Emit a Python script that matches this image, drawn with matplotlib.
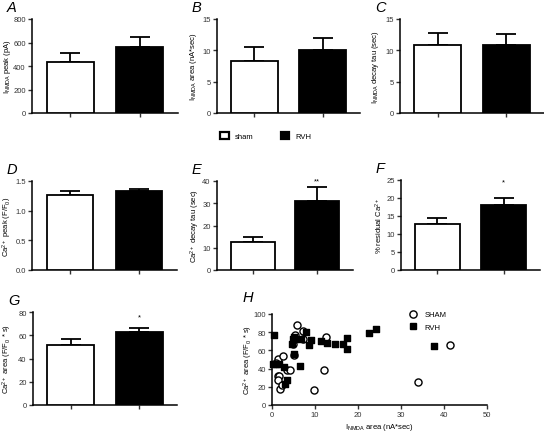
import numpy as np
import matplotlib
matplotlib.use("Agg")
import matplotlib.pyplot as plt
from matplotlib.patches import Patch
from matplotlib.lines import Line2D

plt.rcParams["font.family"] = ["Liberation Sans", "DejaVu Sans"]
plt.rcParams["mathtext.default"] = "regular"

groups = ["sham", "RVH"]

# bar panels: mean and SEM for sham / RVH
nmda_peak = [430, 565]
nmda_peak_err = [80, 85]
nmda_area = [8.3, 10.1]
nmda_area_err = [2.3, 1.9]
nmda_tau = [10.9, 10.9]
nmda_tau_err = [1.8, 1.7]
ca_peak = [1.27, 1.33]
ca_peak_err = [0.06, 0.04]
ca_tau = [12.6, 31.2]
ca_tau_err = [2.2, 6.0]
ca_resid = [12.8, 18.1]
ca_resid_err = [1.7, 2.0]
ca_area = [52, 63]
ca_area_err = [5, 3.5]

# scatter H
sham_x = [5.9, 7.2, 12.5, 5.4, 7.3, 1.4, 2.6, 1.3, 1.6, 1.4, 1.8, 2.3, 3.6, 4.2,
          9.8, 12.0, 33.9, 41.5, 5.0, 4.9, 1.0]
sham_y = [88, 81, 75, 77, 72, 51, 54, 32, 32, 27, 18, 22, 39, 39,
          16, 39, 25, 66, 55, 67, 46]
rvh_x = [0.4, 0.2, 1.0, 1.6, 2.8, 3.1, 3.6, 5.2, 6.6, 5.0, 4.8, 4.7, 5.4, 6.7,
         8.0, 8.6, 9.0, 11.3, 12.8, 14.7, 16.6, 17.5, 17.5, 22.5, 24.1, 37.6]
rvh_y = [77, 45, 45, 45, 42, 23, 28, 56, 43, 75, 72, 67, 72, 72,
         80, 66, 71, 70, 68, 67, 67, 74, 61, 79, 83, 65]

W, H = 544, 435
FS = 5.5


def box(x0, x1, ytop, ybot):
    return [x0 / W, 1 - ybot / H, (x1 - x0) / W, (ybot - ytop) / H]


def style(ax):
    for s in ["top", "right"]:
        ax.spines[s].set_visible(False)
    for s in ["left", "bottom"]:
        ax.spines[s].set_linewidth(1.1)
    ax.tick_params(width=1.0, length=3, pad=1.5, labelsize=FS, colors="#333")


def place_ylabel(ax, rect, px):
    # put the y label centre at a given pixel column
    ax.yaxis.set_label_coords((px / W - rect[0]) / rect[2], 0.5)


def bar_panel(fig, rect, vals, errs, ymax, step, ylabel, letter, label_px,
              star=None, fmt=None):
    ax = fig.add_axes(rect)
    x = np.arange(2)
    ax.bar(x, vals, width=0.68, color=["white", "black"], edgecolor="black",
           linewidth=1.3, zorder=3)
    ax.errorbar(x, vals, yerr=[np.zeros(2), errs], fmt="none", ecolor="black",
                elinewidth=1.3, capsize=7, capthick=1.3, zorder=2)
    ax.set_xlim(-0.55, 1.55)
    ax.set_ylim(0, ymax)
    ticks = np.arange(0, ymax + step / 2, step)
    ax.set_yticks(ticks)
    if fmt:
        ax.set_yticklabels([fmt.format(t) for t in ticks])
    ax.set_xticks(x)
    ax.set_xticklabels([])
    ax.spines["left"].set_bounds(0, ymax)
    style(ax)
    ax.set_ylabel(ylabel, fontsize=FS, va="center")
    place_ylabel(ax, rect, label_px)
    if star:
        ax.text(1, star[1], star[0], ha="center", va="center", fontsize=FS)
    fig.text(rect[0] - 25 / W, rect[1] + rect[3] + 5 / H, letter,
             fontsize=10.5, style="italic", va="bottom", ha="left")
    return ax


fig = plt.figure(figsize=(W / 100, H / 100), dpi=100)

bar_panel(fig, box(32, 178, 20, 114), nmda_peak, nmda_peak_err, 800, 200,
          r"I$_{NMDA}$ peak (pA)", "A", 8)
bar_panel(fig, box(217, 360, 20, 114), nmda_area, nmda_area_err, 15, 5,
          r"I$_{NMDA}$ area (nA*sec)", "B", 194)
bar_panel(fig, box(400, 544, 20, 114), nmda_tau, nmda_tau_err, 15, 5,
          r"I$_{NMDA}$ decay tau (sec)", "C", 376)
bar_panel(fig, box(32, 177, 182, 271), ca_peak, ca_peak_err, 1.5, 0.5,
          r"Ca$^{2+}$ peak (F/F$_0$)", "D", 7)
bar_panel(fig, box(217, 353, 182, 271), ca_tau, ca_tau_err, 40, 10,
          r"Ca$^{2+}$ decay tau (sec)", "E", 195, star=("**", 40))
bar_panel(fig, box(401, 540, 181, 271), ca_resid, ca_resid_err, 25, 5,
          r"% residual Ca$^{2+}$", "F", 379, star=("*", 24.5))
bar_panel(fig, box(33, 177, 313, 406), ca_area, ca_area_err, 80, 20,
          r"Ca$^{2+}$ area (F/F$_0$ * s)", "G", 7, star=("*", 76))

# legend between rows
handles = [Patch(facecolor="white", edgecolor="black", linewidth=1.6),
           Patch(facecolor="black", edgecolor="black", linewidth=1.6)]
fig.legend(handles, groups, loc="center", ncol=2, frameon=False,
           bbox_to_anchor=(266 / W, 1 - 137 / H), fontsize=FS,
           handlelength=1.1, handleheight=1.1, columnspacing=3.6,
           handletextpad=0.8)

# scatter H
rect_h = box(272, 487, 315, 406)
axh = fig.add_axes(rect_h)
axh.scatter(sham_x, sham_y, s=26, facecolors="white", edgecolors="black",
            linewidths=1.0, marker="o", zorder=3, clip_on=False)
axh.scatter(rvh_x, rvh_y, s=24, color="black", marker="s", zorder=3,
            clip_on=False)
axh.set_xlim(0, 50)
axh.set_ylim(0, 100)
axh.set_xticks(np.arange(0, 51, 10))
axh.set_yticks(np.arange(0, 101, 20))
style(axh)
axh.set_xlabel(r"I$_{NMDA}$ area (nA*sec)", fontsize=FS, labelpad=2)
axh.set_ylabel(r"Ca$^{2+}$ area (F/F$_0$ * s)", fontsize=FS, va="center")
place_ylabel(axh, rect_h, 248)
leg_handles = [Line2D([], [], marker="o", linestyle="none", markersize=5.2,
                      markerfacecolor="white", markeredgecolor="black"),
               Line2D([], [], marker="s", linestyle="none", markersize=4.8,
                      color="black")]
axh.legend(leg_handles, ["SHAM", "RVH"], loc="upper left",
           bbox_to_anchor=(0.59, 1.11), frameon=False, fontsize=FS,
           handletextpad=0.5, labelspacing=0.7)
fig.text(243 / W, 1 - 298 / H, "H", fontsize=10.5, style="italic",
         va="center")

fig.savefig("out.png", dpi=100)
